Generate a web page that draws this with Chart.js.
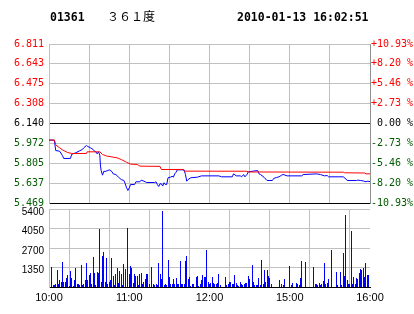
<!DOCTYPE html>
<html><head><meta charset="utf-8">
<script src="https://cdn.jsdelivr.net/npm/chart.js@4.4.1/dist/chart.umd.min.js"></script>
<style>
html,body{margin:0;padding:0;background:#fff;}
#wrap{position:relative;width:414px;height:314px;overflow:hidden;background:#fff;}
canvas{position:absolute;left:0;top:0;}
.t{position:absolute;white-space:pre;line-height:14px;color:#000;}
</style></head><body>
<div id="wrap">
<canvas id="price" width="414" height="314"></canvas>
<canvas id="vol" width="414" height="314"></canvas>
<div class="t" id="code" style="left:50px;top:10px;font-weight:bold;font-size:11.5px;font-family:'DejaVu Sans Mono';"></div>
<div class="t" id="name" style="left:107px;top:9px;font-size:12px;font-family:'Noto Sans CJK SC';"></div>
<div class="t" id="stamp" style="left:237px;top:10px;font-weight:bold;font-size:11.5px;font-family:'DejaVu Sans Mono';"></div>
</div>
<script>
// ---- header text ----
const stockCode = '01361';
const stockName = '３６１度';
const stampText = '2010-01-13 16:02:51';

// ---- axes ----
const prevClose = 6.140;
const priceTicks = [6.811, 6.643, 6.475, 6.308, 6.140, 5.972, 5.805, 5.637, 5.469];
const pctTicks = [10.93, 8.20, 5.46, 2.73, 0, -2.73, -5.46, -8.20, -10.93];
const pctLabels = ['+10.93%', '+8.20 %', '+5.46 %', '+2.73 %', ' 0.00 %', '-2.73 %', '-5.46 %', '-8.20 %', '-10.93%'];
const volTicks = [0, 1350, 2700, 4050, 5400];
const gridMinutes = [0, 30, 60, 90, 120, 150, 180, 210, 240];
const timeTickMinutes = [0, 60, 120, 180, 240];
const timeTickLabels = ['10:00', '11:00', '12:00', '15:00', '16:00'];

// ---- price line (minutes from 10:00 trading clock, price) ----
const priceTimes = [0,4,5,8,10,11,16,17,20,23,25,26,28,29,31,33,34,35,36,37,38,38.5,39,40,41,42,44,45,47,48,50,52,54,56,57,58,59,60,61,64,65,68,69,71,73,79,80,81,82,83,84,85,86,87,88,89,91,92,93,94,95,96,101,102,103,104,106,111,114,127,129,137,138,140,143,144,145.5,146.5,148,149,156,157,158,160,161,163,167,168,170,172,174,175,178,189,190,200,203,206,208,209,220,222,223,230,231,233,235,237,238,240];
const pricePrices = [6.000,6.000,5.912,5.906,5.870,5.845,5.845,5.880,5.893,5.910,5.921,5.935,5.954,5.946,5.935,5.921,5.906,5.901,5.884,5.901,5.873,5.780,5.743,5.704,5.737,5.735,5.743,5.749,5.735,5.715,5.709,5.687,5.667,5.659,5.631,5.597,5.575,5.597,5.625,5.625,5.648,5.648,5.662,5.653,5.642,5.642,5.648,5.625,5.608,5.631,5.631,5.612,5.640,5.625,5.625,5.682,5.687,5.695,5.687,5.715,5.729,5.749,5.749,5.710,5.653,5.667,5.682,5.687,5.698,5.698,5.690,5.690,5.715,5.698,5.698,5.690,5.709,5.690,5.709,5.732,5.743,5.715,5.710,5.693,5.684,5.659,5.659,5.676,5.684,5.690,5.704,5.710,5.698,5.698,5.709,5.715,5.709,5.698,5.701,5.690,5.690,5.672,5.659,5.659,5.662,5.659,5.655,5.648,5.653,5.650];

// ---- average price line ----
const avgTimes = [0,4,5,6,8,10,12,14,17,28,28.5,38,40,43,47,51,54,58,61,66,68,83,84,100,101,148,149,220,221,236,237,240];
const avgPrices = [6.000,6.000,5.963,5.950,5.935,5.918,5.906,5.895,5.887,5.887,5.901,5.901,5.878,5.866,5.858,5.850,5.836,5.813,5.797,5.794,5.780,5.778,5.752,5.752,5.738,5.737,5.731,5.729,5.724,5.722,5.715,5.715];

// ---- volume per minute (index = minutes from 10:00 on trading clock) ----
const volumes = [
0,0,1380,115,140,185,1150,230,460,320,
1700,345,345,600,800,70,1080,600,70,460,
1290,185,185,115,1500,140,185,460,1630,460,
830,990,230,2110,940,115,1010,940,4050,370,
2180,2390,370,1980,230,320,460,1980,740,115,
875,1290,275,1100,875,115,1560,1270,0,4090,
875,1430,1290,300,920,740,780,140,920,940,
230,370,530,875,875,185,0,1380,185,115,
230,115,1680,875,530,5290,140,185,115,1840,
690,230,185,530,185,600,185,230,1790,185,
230,230,1790,2180,530,690,70,185,185,0,
690,740,70,185,460,800,690,690,2530,370,
230,300,690,300,185,185,275,920,140,0,
0,0,690,115,230,370,370,185,230,805,
300,140,90,370,230,115,230,300,300,740,
530,0,1500,370,115,140,115,600,115,1840,
185,1150,345,1150,760,600,230,0,0,0,
0,0,460,0,185,115,530,0,0,0,
1430,115,275,0,0,275,185,115,600,1790,
0,0,1700,0,0,0,0,0,1380,185,
185,140,275,140,230,415,1630,185,275,530,
0,2530,0,0,0,1010,115,0,1010,115,
2320,760,5010,460,230,230,3910,185,690,230,
600,530,970,1240,1150,1290,690,1650,830,830,
830];

document.getElementById('code').textContent = stockCode;
document.getElementById('name').textContent = stockName;
document.getElementById('stamp').textContent = stampText;

const RED = '#FF0000', GREEN = '#005A00', BLACK = '#000000', GRID = '#C0C0C0';
const monoFont = {family: "'DejaVu Sans Mono'", size: 10};
function sideColor(v, zero) { return v > zero + 1e-9 ? RED : (v < zero - 1e-9 ? GREEN : BLACK); }

// snap the 1px volume bars to whole pixel columns (positions still come from the scale)
const snapBars = {
  id: 'snapBars',
  afterDatasetsUpdate(chart) {
    chart.getSortedVisibleDatasetMetas().forEach(meta => {
      meta.data.forEach(el => {
        el.x = Math.floor(el.x) + 0.5;
        el.y = Math.round(el.y);
        el.base = Math.round(el.base);
      });
    });
  }
};

new Chart(document.getElementById('price'), {
  type: 'line',
  data: {
    datasets: [
      {data: avgTimes.map((t, i) => ({x: t, y: avgPrices[i]})), borderColor: RED, borderWidth: 1, pointRadius: 0, tension: 0, yAxisID: 'y'},
      {data: priceTimes.map((t, i) => ({x: t, y: pricePrices[i]})), borderColor: '#0000FF', borderWidth: 1, pointRadius: 0, tension: 0, yAxisID: 'y'}
    ]
  },
  options: {
    responsive: false, animation: false, devicePixelRatio: 1,
    layout: {padding: {left: 0, right: 0, top: 44, bottom: 111}},
    plugins: {legend: {display: false}, tooltip: {enabled: false}},
    scales: {
      x: {type: 'linear', min: 0, max: 240,
        afterBuildTicks: s => { s.ticks = gridMinutes.map(v => ({value: v})); },
        ticks: {display: false},
        grid: {color: GRID, drawTicks: false, lineWidth: 1},
        border: {color: BLACK},
        afterFit: s => { s.height = 0; }},
      y: {position: 'left', min: priceTicks[8], max: priceTicks[0],
        afterBuildTicks: s => { s.ticks = priceTicks.map(v => ({value: v})); },
        ticks: {callback: v => v.toFixed(3), color: ctx => sideColor(ctx.tick.value, prevClose), font: monoFont, padding: 5, labelOffset: 0},
        grid: {color: ctx => (ctx.tick.value === prevClose || ctx.tick.value === priceTicks[8]) ? BLACK : GRID, drawTicks: false},
        border: {color: GRID},
        afterFit: s => { s.width = 49; }},
      y2: {position: 'right', min: pctTicks[8], max: pctTicks[0],
        afterBuildTicks: s => { s.ticks = pctTicks.map(v => ({value: v})); },
        ticks: {callback: (v, i) => pctLabels[i], color: ctx => sideColor(ctx.tick.value, 0), font: monoFont, padding: 1, labelOffset: 0},
        grid: {display: false, drawTicks: false},
        border: {color: '#909090'},
        afterFit: s => { s.width = 44; }}
    }
  }
});

new Chart(document.getElementById('vol'), {
  type: 'bar',
  data: {datasets: [{data: volumes.map((v, i) => ({x: i, y: v})), backgroundColor: '#0000FF', barThickness: 1, borderWidth: 0, inflateAmount: 0}]},
  plugins: [snapBars],
  options: {
    responsive: false, animation: false, devicePixelRatio: 1,
    layout: {padding: {left: 0, right: 44, top: 209, bottom: 0}},
    plugins: {legend: {display: false}, tooltip: {enabled: false}},
    scales: {
      x: {type: 'linear', min: 0, max: 240, offset: false,
        afterBuildTicks: s => { s.ticks = gridMinutes.map(v => ({value: v})); },
        ticks: {callback: v => { const k = timeTickMinutes.indexOf(v); return k < 0 ? '' : timeTickLabels[k]; }, autoSkip: false, maxRotation: 0, font: {family: "'Liberation Sans'", size: 11}, color: BLACK, padding: 4},
        grid: {color: GRID, drawTicks: false},
        border: {color: BLACK},
        afterFit: s => { s.height = 27; }},
      y: {min: 0, max: 5400,
        afterBuildTicks: s => { s.ticks = volTicks.map(v => ({value: v})); },
        ticks: {callback: v => v === 0 ? '' : String(v), font: {family: "'Liberation Sans'", size: 10}, color: BLACK, padding: 5, labelOffset: 3},
        grid: {color: ctx => ctx.tick.value === 0 ? BLACK : GRID, drawTicks: false},
        border: {color: GRID},
        afterFit: s => { s.width = 49; }}
    }
  }
});
</script>
</body></html>
